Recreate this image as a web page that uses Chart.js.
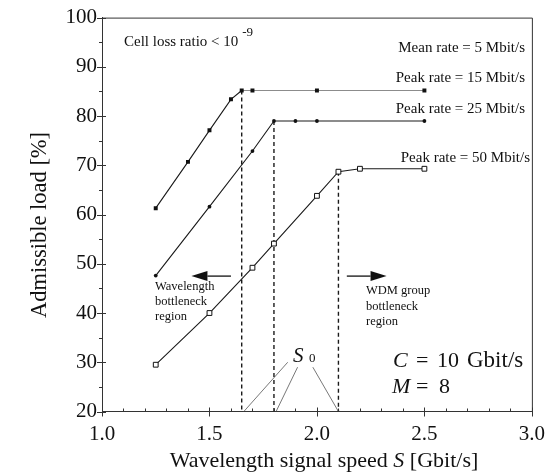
<!DOCTYPE html>
<html><head><meta charset="utf-8">
<script src="https://cdn.jsdelivr.net/npm/chart.js@4.4.0/dist/chart.umd.min.js"></script>
<style>html,body{margin:0;padding:0;background:#fff}#wrap{width:555px;height:473px;position:relative}</style>
</head><body><div id="wrap"><canvas id="c"></canvas></div>
<script>
// ---- data ----
const speeds15 = [1.25, 1.4, 1.5, 1.6, 1.65, 1.7, 2.0, 2.5];
const load15   = [61.3, 70.7, 77.1, 83.4, 85.2, 85.2, 85.2, 85.2];
const speeds25 = [1.25, 1.5, 1.7, 1.8, 1.9, 2.0, 2.5];
const load25   = [47.6, 61.6, 72.9, 79.0, 79.0, 79.0, 79.0];
const speeds50 = [1.25, 1.5, 1.7, 1.8, 2.0, 2.1, 2.2, 2.5];
const load50   = [29.5, 40.0, 49.2, 54.1, 63.8, 68.7, 69.3, 69.3];
// vertical dashed lines (S0 for each peak rate) and their top values
const s0Speeds = [1.65, 1.8, 2.1];
const s0Tops   = [85.2, 79.0, 68.7];
// pointer lines from the "S0" label to the axis
const ptrFromX = [1.864, 1.91, 1.981];
const ptrFromY = [30.0, 29.0, 29.0];
const ptrToX   = [1.66, 1.81, 2.10];
const ptrToY   = [20, 20, 20];
// region arrows (x from, x to) at a common load level
const arrowLoad = 47.5;
const arrowLeft  = [1.60, 1.416];
const arrowRight = [2.139, 2.324];
// axes
const xMin = 1.0, xMax = 3.0, xStep = 0.5, xMinor = 0.1;
const yMin = 20, yMax = 100, yStep = 10, yMinor = 5;
const xTitle = ['Wavelength signal speed ', 'S', ' [Gbit/s]'];
const yTitle = 'Admissible load [%]';

const serif = '"Liberation Serif", "Times New Roman", serif';
const pts = (xs, ys) => xs.map((v, i) => ({x: v, y: ys[i]}));

const datasets = [
  {data: pts(speeds15, load15), borderColor: '#1a1a1a', borderWidth: 1.1,
   segment: {borderColor: c => c.p0.parsed.x >= 1.65 ? '#8c8c8c' : '#1a1a1a'},
   pointStyle: 'rect', pointRadius: 2.8, pointBackgroundColor: '#111', pointBorderWidth: 0},
  {data: pts(speeds25, load25), borderColor: '#1a1a1a', borderWidth: 1.1,
   pointStyle: 'circle', pointRadius: 1.9, pointBackgroundColor: '#111', pointBorderWidth: 0},
  {data: pts(speeds50, load50), borderColor: '#1a1a1a', borderWidth: 1.1,
   pointStyle: 'rect', pointRadius: 3.4, pointBackgroundColor: '#fff', pointBorderColor: '#111', pointBorderWidth: 1},
];
s0Speeds.forEach((s, i) => datasets.push({
  data: [{x: s, y: s0Tops[i]}, {x: s, y: yMin}], borderColor: '#1a1a1a', borderWidth: 1.4,
  borderDash: [4, 3], pointRadius: 0}));
ptrFromX.forEach((s, i) => datasets.push({
  data: [{x: s, y: ptrFromY[i]}, {x: ptrToX[i], y: ptrToY[i]}], borderColor: '#555', borderWidth: 0.8,
  pointRadius: 0}));
datasets.forEach(d => { d.showLine = true; d.fill = false; d.tension = 0; });

const deco = {
  id: 'deco',
  afterDraw(chart) {
    const {ctx, chartArea: a, scales: {x, y}} = chart;
    ctx.save();
    ctx.strokeStyle = '#333'; ctx.lineWidth = 1;
    // top & right frame
    ctx.beginPath();
    ctx.moveTo(a.left, a.top + 0.5); ctx.lineTo(a.right + 0.5, a.top + 0.5); ctx.lineTo(a.right + 0.5, a.bottom);
    ctx.stroke();
    // x ticks
    const nx = Math.round((xMax - xMin) / xMinor);
    for (let i = 0; i <= nx; i++) {
      const px = Math.round(x.getPixelForValue(xMin + i * xMinor)) + 0.5;
      const major = i % Math.round(xStep / xMinor) === 0;
      ctx.beginPath();
      ctx.moveTo(px, a.bottom - (major ? 4 : 3)); ctx.lineTo(px, a.bottom + (major ? 5 : 0));
      ctx.stroke();
    }
    // y ticks
    const ny = Math.round((yMax - yMin) / yMinor);
    for (let i = 0; i <= ny; i++) {
      const py = Math.round(y.getPixelForValue(yMin + i * yMinor)) + 0.5;
      const major = i % Math.round(yStep / yMinor) === 0;
      ctx.beginPath();
      ctx.moveTo(a.left - (major ? 5 : 3), py); ctx.lineTo(a.left + (major ? 4 : 0), py);
      ctx.stroke();
    }
    // arrows
    const arrow = (v0, v1) => {
      const x0 = x.getPixelForValue(v0), x1 = x.getPixelForValue(v1), yy = y.getPixelForValue(arrowLoad);
      const dir = Math.sign(x1 - x0), head = 16, hw = 5;
      ctx.strokeStyle = '#111'; ctx.fillStyle = '#111'; ctx.lineWidth = 1.3;
      ctx.beginPath(); ctx.moveTo(x0, yy); ctx.lineTo(x1 - dir * head, yy); ctx.stroke();
      ctx.beginPath(); ctx.moveTo(x1, yy); ctx.lineTo(x1 - dir * head, yy - hw); ctx.lineTo(x1 - dir * head, yy + hw); ctx.closePath(); ctx.fill();
    };
    arrow(arrowLeft[0], arrowLeft[1]);
    arrow(arrowRight[0], arrowRight[1]);

    // texts
    ctx.fillStyle = '#111';
    const txt = (s, px, py, size, align = 'left', base = 'alphabetic', style = '') => {
      ctx.font = `${style} ${size}px ${serif}`;
      ctx.textAlign = align; ctx.textBaseline = base;
      ctx.fillText(s, px, py);
      return ctx.measureText(s).width;
    };
    const w1 = txt('Cell loss ratio < 10', 124, 46, 15);
    txt('-9', 124 + w1 + 4, 36, 13);
    txt('Mean rate = 5 Mbit/s', 525, 52, 15, 'right');
    txt('Peak rate = 15 Mbit/s', 525, 82, 15, 'right');
    txt('Peak rate = 25 Mbit/s', 525, 113, 15, 'right');
    txt('Peak rate = 50 Mbit/s', 530, 162, 15, 'right');
    ['Wavelength', 'bottleneck', 'region'].forEach((s, i) => txt(s, 155, 290 + i * 15, 12.5));
    ['WDM group', 'bottleneck', 'region'].forEach((s, i) => txt(s, 366, 294 + i * 15.5, 12.5));
    // S0
    txt('S', 293, 362, 21, 'left', 'alphabetic', 'italic');
    txt('0', 309, 362, 13);
    // C = 10 Gbit/s ; M = 8
    txt('C', 393, 367, 22, 'left', 'alphabetic', 'italic');
    txt('=', 416, 367, 22);
    txt('10', 437, 367, 22);
    txt('Gbit/s', 467, 367, 23);
    txt('M', 392, 393, 22, 'left', 'alphabetic', 'italic');
    txt('=', 416, 393, 22);
    txt('8', 439, 393, 22);

    // axis titles
    const tsize = 22;
    ctx.font = `${tsize}px ${serif}`;
    const wa = ctx.measureText(xTitle[0]).width;
    ctx.font = `italic ${tsize}px ${serif}`;
    const wb = ctx.measureText(xTitle[1]).width;
    ctx.font = `${tsize}px ${serif}`;
    const wc = ctx.measureText(xTitle[2]).width;
    let sx = 324 - (wa + wb + wc) / 2;
    txt(xTitle[0], sx, 467, tsize);
    txt(xTitle[1], sx + wa, 467, tsize, 'left', 'alphabetic', 'italic');
    txt(xTitle[2], sx + wa + wb, 467, tsize);
    ctx.save();
    ctx.translate(46, 225); ctx.rotate(-Math.PI / 2);
    txt(yTitle, 0, 0, 22.5, 'center', 'alphabetic');
    ctx.restore();
    ctx.restore();
  }
};

new Chart(document.getElementById('c'), {
  type: 'scatter',
  data: {datasets},
  options: {
    responsive: true, maintainAspectRatio: false, animation: false,
    layout: {padding: {top: 15, right: 14, left: 0, bottom: 0}},
    plugins: {legend: {display: false}, tooltip: {enabled: false}},
    scales: {
      x: {type: 'linear', min: xMin, max: xMax,
          ticks: {stepSize: xStep, callback: v => Number(v).toFixed(1), font: {family: serif, size: 21}, color: '#111', padding: 10, maxRotation: 0, autoSkip: false},
          grid: {display: false, drawTicks: false}, border: {display: true, color: '#333', width: 1},
          afterFit: s => { s.height = 61.5; }},
      y: {type: 'linear', min: yMin, max: yMax,
          ticks: {stepSize: yStep, font: {family: serif, size: 21}, color: '#111', padding: 5},
          grid: {display: false, drawTicks: false}, border: {display: true, color: '#333', width: 1},
          afterFit: s => { s.width = 102; }}
    }
  },
  plugins: [deco]
});
</script></body></html>
